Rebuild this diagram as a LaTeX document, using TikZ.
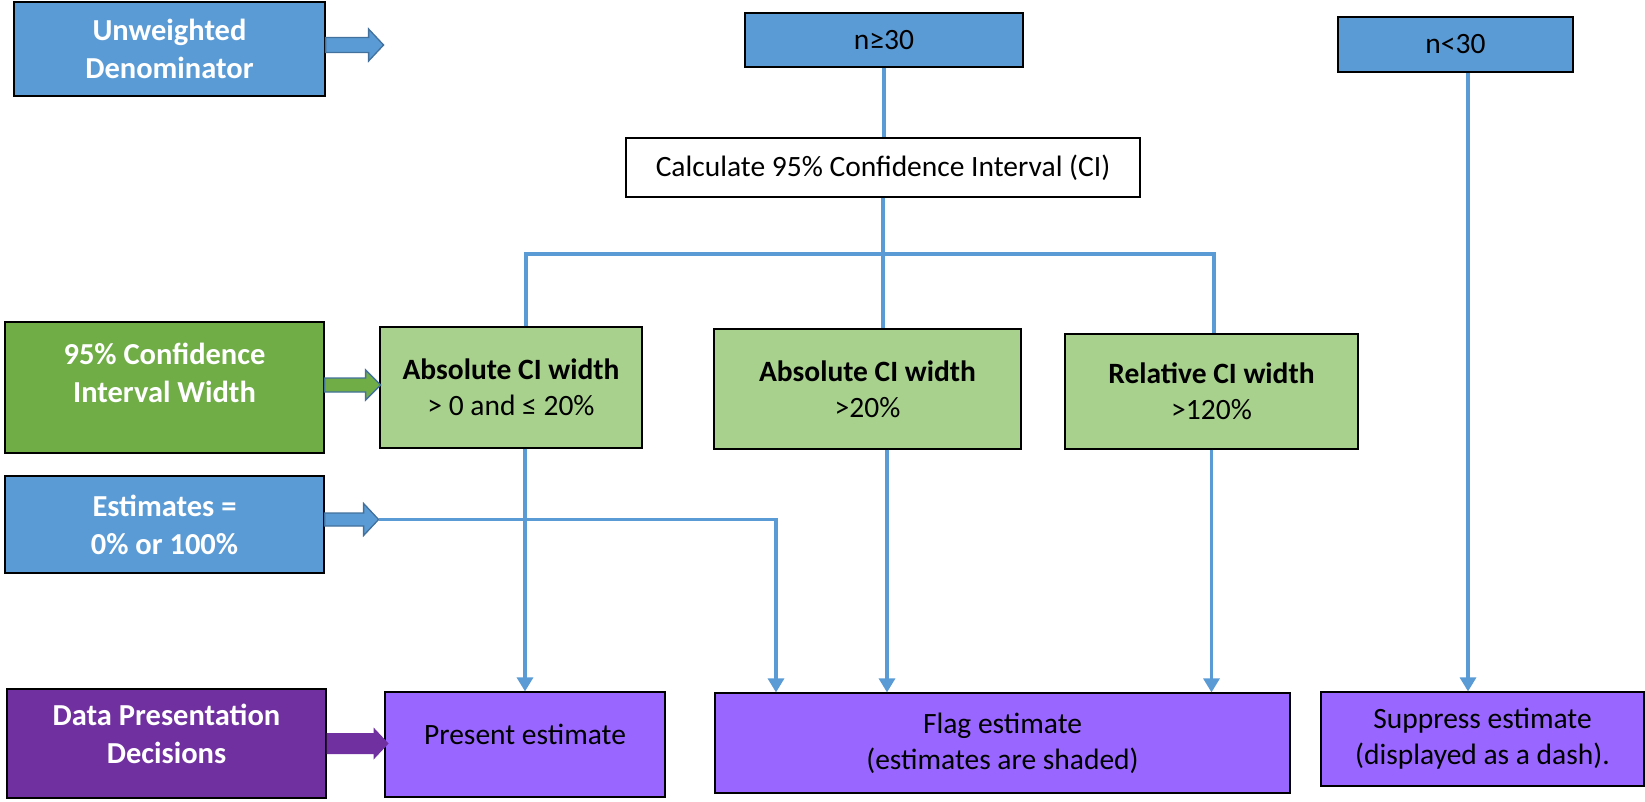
\documentclass[tikz,border=0pt]{standalone}
\usepackage{fontspec}
\setmainfont{Carlito}
\usetikzlibrary{arrows.meta}
\definecolor{boxblue}{HTML}{5B9BD5}
\definecolor{arrowedge}{HTML}{41719C}
\definecolor{boxgreen}{HTML}{70AD47}
\definecolor{lightgreen}{HTML}{A9D18E}
\definecolor{darkpurple}{HTML}{7030A0}
\definecolor{lightpurple}{HTML}{9966FF}
\tikzset{>={Triangle[length=14pt,width=16pt]}}

\begin{document}
\begin{tikzpicture}[x=1pt,y=-1pt,
    box/.style={draw=black,line width=1.2pt,inner sep=0pt,align=center,
      font=\fontsize{29.5}{36}\selectfont},
    sidebox/.style={box,text=white,minimum width=319pt,
      font=\fontsize{30.5}{38}\selectfont\bfseries},
    topbox/.style={box,fill=boxblue},
    greenbox/.style={box,fill=lightgreen},
    outbox/.style={box,fill=lightpurple},
    link/.style={draw=boxblue,line width=3.2pt},
    blockarrow/.style={fill=boxblue,draw=arrowedge,line width=1.3pt}]
  \useasboundingbox (0,0) rectangle (1645,801);

  % left column
  \node[sidebox,fill=boxblue,minimum width=311pt,minimum height=94pt] (ud) at (169.5,49) {Unweighted\\Denominator};
  \node[sidebox,fill=boxgreen,minimum height=131pt,text depth=29pt] (ciw) at (164.5,387.5) {95\% Confidence\\Interval Width};
  \node[sidebox,fill=boxblue,minimum height=97pt] (est) at (164.5,524.5) {Estimates =\\0\% or 100\%};
  \node[sidebox,fill=darkpurple,minimum height=109pt,text depth=20pt] (dpd) at (166.5,743.5) {Data Presentation\\Decisions};

  % sample size
  \node[topbox,minimum width=278pt,minimum height=54pt] (nge) at (884,40) {n≥30};
  \node[topbox,minimum width=235pt,minimum height=55pt] (nlt) at (1455.5,44.5) {n<30};
  \node[box,fill=white,minimum width=514pt,minimum height=59pt] (calc) at (883,167.5) {Calculate 95\% Confidence Interval (CI)};

  % CI width
  \node[greenbox,minimum width=262pt,minimum height=121pt] (absa) at (511,387.5) {\textbf{Absolute CI width}\\> 0 and ≤ 20\%};
  \node[greenbox,minimum width=307pt,minimum height=120pt] (absb) at (867.5,389) {\textbf{Absolute CI width}\\>20\%};
  \node[greenbox,minimum width=293pt,minimum height=115pt] (rel) at (1211.5,391.5) {\textbf{Relative CI width}\\>120\%};

  % decisions
  \node[outbox,minimum width=280pt,minimum height=105pt,text depth=20pt] (present) at (525,744.5) {Present estimate};
  \node[outbox,minimum width=575pt,minimum height=100pt] (flag) at (1002.5,743) {Flag estimate\\(estimates are shaded)};
  \node[outbox,minimum width=323pt,minimum height=94pt] (supp) at (1482.5,739) {Suppress estimate\\(displayed as a dash).};

  % block arrows
  \filldraw[blockarrow,shift={(ud.east)}] (0,-11.5) -- (43,-11.5) -- (43,-20) -- (58,-4) -- (43,12) -- (43,3.5) -- (0,3.5) -- cycle;
  \filldraw[blockarrow,fill=boxgreen,shift={(ciw.east)}] (0,-9.5) -- (41,-9.5) -- (41,-17.5) -- (56,-2.5) -- (41,12.5) -- (41,4.5) -- (0,4.5) -- cycle;
  \filldraw[blockarrow,shift={(est.east)}] (0,-11.5) -- (39,-11.5) -- (39,-21) -- (54,-5) coordinate (esttip) -- (39,11) -- (39,1.5) -- (0,1.5) -- cycle;
  \fill[darkpurple,shift={(dpd.east)}] (0,-10.5) -- (47,-10.5) -- (47,-16) -- (62,0) -- (47,16) -- (47,10.5) -- (0,10.5) -- cycle;

  % connectors
  \coordinate (busl) at (526,254);
  \coordinate (busr) at (1214,254);
  \draw[link] (nge.south) -- (nge.south |- calc.north);
  \draw[link] (calc.south) -- (calc.south |- absb.north);
  \draw[link] (busl |- absa.north) -- (busl) -- (busr) -- (busr |- rel.north);
  \draw[link,->] (absa.south -| present.north) -- (present.north);
  \draw[link,->] ([xshift=19.5pt]absb.south) -- ([xshift=19.5pt]absb.south |- flag.north);
  \draw[link,->] (rel.south) -- (rel.south |- flag.north);
  \draw[link,->] (esttip) -| ([xshift=-226.5pt]flag.north);
  \draw[link,->] ([xshift=12.5pt]nlt.south) -- ([xshift=12.5pt]nlt.south |- supp.north);
\end{tikzpicture}
\end{document}
